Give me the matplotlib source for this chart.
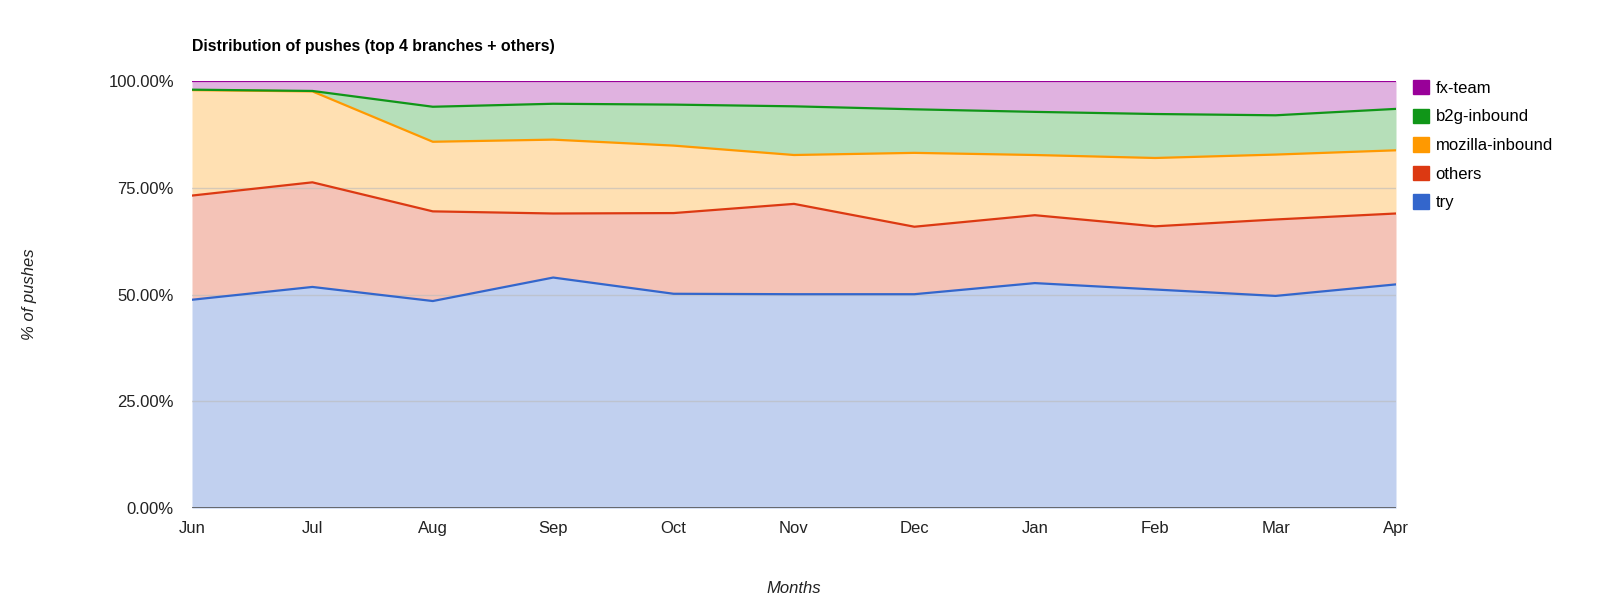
import numpy as np
import matplotlib
matplotlib.use('Agg')
import matplotlib.pyplot as plt
from matplotlib.patches import Patch
from matplotlib.ticker import FuncFormatter

plt.rcParams['font.family'] = ['Liberation Sans', 'DejaVu Sans']

# Miesiące i udziały (w %) dla każdej gałęzi
months = ['Jun', 'Jul', 'Aug', 'Sep', 'Oct', 'Nov', 'Dec', 'Jan', 'Feb', 'Mar', 'Apr']
try_share = [48.8, 51.8, 48.5, 54.0, 50.2, 50.1, 50.1, 52.7, 51.2, 49.7, 52.4]
others_share = [24.4, 24.5, 21.0, 15.0, 18.9, 21.15, 15.8, 15.9, 14.8, 17.9, 16.6]
mozilla_share = [24.7, 21.3, 16.3, 17.3, 15.8, 11.45, 17.3, 14.1, 16.0, 15.2, 14.8]
b2g_share = [0.1, 0.1, 8.2, 8.4, 9.6, 11.4, 10.2, 10.1, 10.3, 9.2, 9.7]
fx_share = [2.0, 2.3, 6.0, 5.3, 5.5, 5.9, 6.6, 7.2, 7.7, 8.0, 6.5]

series = [
    ('try', try_share, '#3366cc'),
    ('others', others_share, '#dc3912'),
    ('mozilla-inbound', mozilla_share, '#ff9900'),
    ('b2g-inbound', b2g_share, '#109618'),
    ('fx-team', fx_share, '#990099'),
]

fig = plt.figure(figsize=(16, 6.1), dpi=100)
ax = fig.add_axes([0.12, 0.167, 0.7525, 0.7])

x = np.arange(len(months))
base = np.zeros(len(months))
for name, vals, color in series:
    top = base + np.array(vals, dtype=float)
    ax.fill_between(x, base, top, color=color, alpha=0.3, linewidth=0, zorder=2)
    ax.plot(x, top, color=color, linewidth=1.6, zorder=3)
    base = top

# Siatka
for v in [25, 50, 75]:
    ax.axhline(v, color='#bbbbbb', linewidth=1, zorder=2.5, alpha=0.6)
ax.axhline(0, color='#555555', linewidth=1.2, zorder=4)

ax.set_xlim(0, len(months) - 1)
ax.set_ylim(0, 100)
ax.set_xticks(x)
ax.set_xticklabels(months)
ax.set_yticks([0, 25, 50, 75, 100])
ax.yaxis.set_major_formatter(FuncFormatter(lambda v, p: f'{v:.2f}%'))
ax.tick_params(axis='both', length=0, labelsize=12, colors='#222222')
ax.tick_params(axis='x', pad=9)
ax.tick_params(axis='y', pad=13)
for s in ax.spines.values():
    s.set_visible(False)

ax.set_xlabel('Months', fontsize=12, style='italic', labelpad=33, color='#222222')
ax.set_ylabel('% of pushes', fontsize=12, style='italic', labelpad=51, color='#222222')

fig.text(192 / 1600, 1 - 46 / 610, 'Distribution of pushes (top 4 branches + others)',
         fontsize=11.4, fontweight='bold', va='center', ha='left', color='#000000')

# Legenda
handles = [Patch(facecolor=c, edgecolor=c, label=n) for n, _, c in reversed(series)]
fig.legend(handles=handles, loc='upper left', bbox_to_anchor=(1413 / 1600, 1 - 80 / 610),
           frameon=False, fontsize=12, handlelength=0.95, handleheight=0.95,
           handletextpad=0.4, labelspacing=0.76, borderaxespad=0, borderpad=0)

fig.savefig('out.png', dpi=100)
